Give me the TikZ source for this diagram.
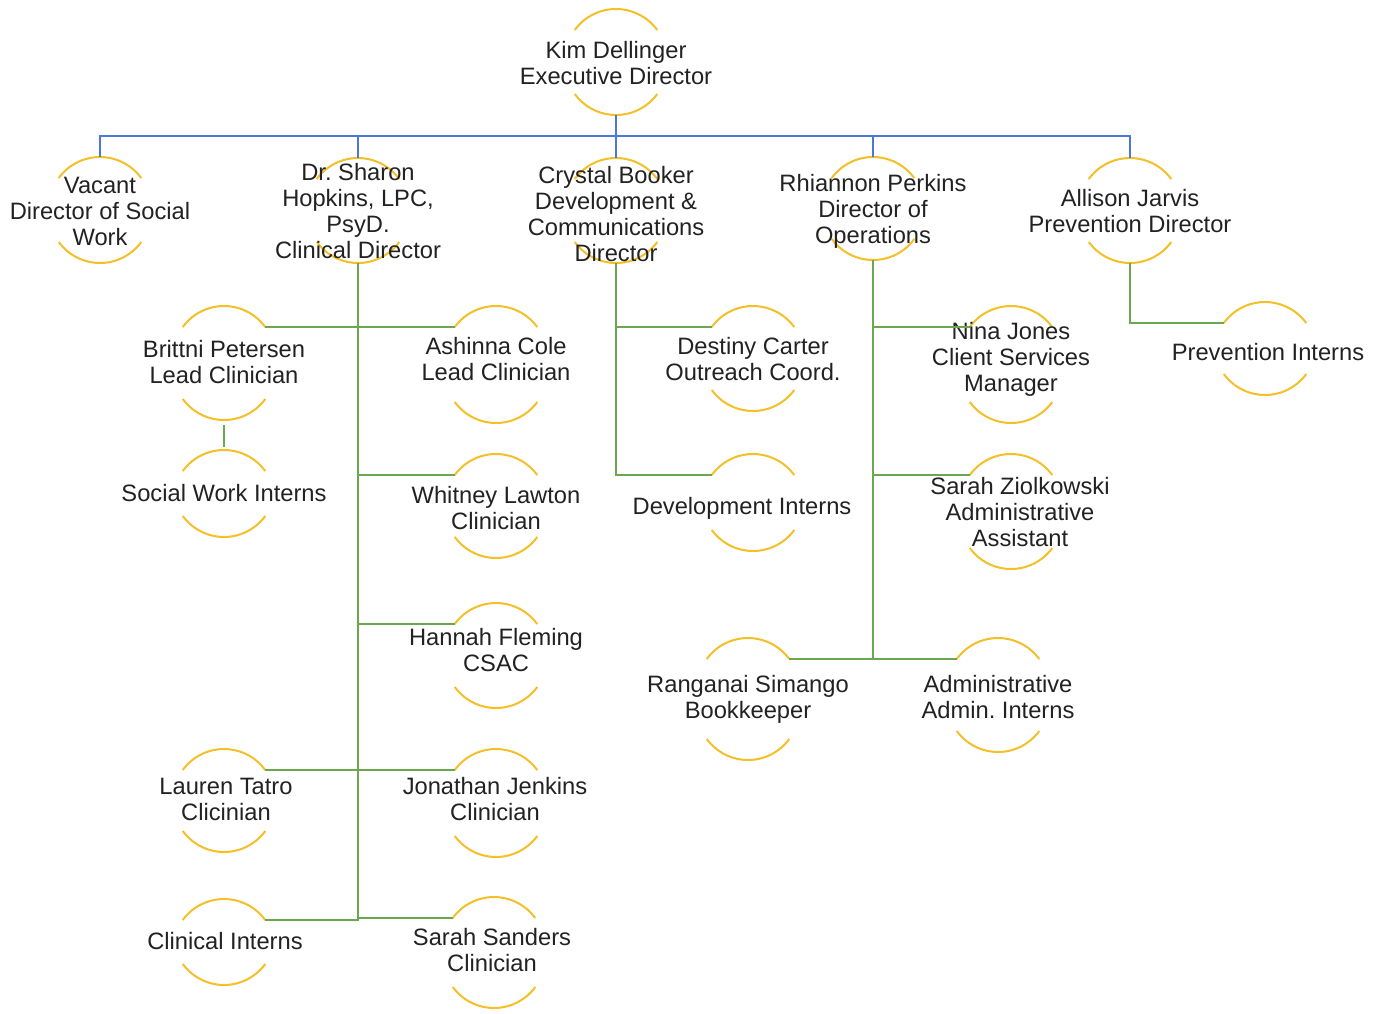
\documentclass[tikz,border=0pt]{standalone}
\usepackage{fontspec}
\setmainfont{Liberation Sans}
\frenchspacing
\definecolor{arcyel}{RGB}{243,192,40}
\definecolor{lineblue}{RGB}{74,120,214}
\definecolor{linegreen}{RGB}{106,168,79}
\definecolor{textc}{RGB}{34,34,34}
\tikzset{
  arcst/.style={draw=arcyel, line width=2pt},
  txt/.style={font=\fontsize{23.7}{26}\selectfont, align=center, inner sep=0pt, text=textc},
  bl/.style={draw=lineblue, line width=2pt},
  gr/.style={draw=linegreen, line width=2pt},
}
\newcommand\orgnode[7]{%
  \coordinate (#1-t) at (#2,#3);
  \coordinate (#1-b) at (#2,#4);
  \path (#1-t) ++(0,51) ++(216:51) coordinate (#1-tl);
  \path (#1-t) ++(0,51) ++(324:51) coordinate (#1-tr);
  \draw[arcst] (#1-tl) arc[start angle=216,end angle=324,radius=51];
  \draw[arcst] (#1-b) ++(0,-51) ++(36:51) arc[start angle=36,end angle=144,radius=51];
  \node[txt] (#1) at (#5,#6) {#7};
}
\begin{document}
\begin{tikzpicture}[x=1pt,y=-1pt]
\useasboundingbox (0,0) rectangle (1383,1013);
\fill[white] (0,0) rectangle (1383,1013);
% nodes
\orgnode{kim}{616}{9}{115}{616}{63}{Kim Dellinger\\Executive Director}
\orgnode{vac}{100}{157}{263}{100}{211}{Vacant\\Director of Social\\Work}
\orgnode{sha}{358}{158}{263}{358}{211}{Dr. Sharon\\Hopkins, LPC,\\PsyD.\\Clinical Director}
\orgnode{cry}{616}{158}{263}{616}{214}{Crystal Booker\\Development \&\\Communications\\Director}
\orgnode{rhi}{873}{157}{260}{873}{211}{Rhiannon Perkins\\Director of\\Operations}
\orgnode{all}{1130}{158}{263}{1130}{211}{Allison Jarvis\\Prevention Director}
\orgnode{brit}{224}{306}{420}{224}{362}{Brittni Petersen\\Lead Clinician}
\orgnode{swi}{224}{450}{537}{224}{493}{Social Work Interns}
\orgnode{ash}{496}{306}{423}{496}{359}{Ashinna Cole\\Lead Clinician}
\orgnode{whit}{496}{454}{558}{496}{508}{Whitney Lawton\\Clinician}
\orgnode{hann}{496}{603}{708}{496}{650}{Hannah Fleming\\CSAC}
\orgnode{laur}{224}{749}{852}{226}{799}{Lauren Tatro\\Clicinian}
\orgnode{jon}{496}{749}{857}{495}{799}{Jonathan Jenkins\\Clinician}
\orgnode{clin}{224}{899}{985}{225}{941}{Clinical Interns}
\orgnode{ssan}{494}{897}{1008}{492}{950}{Sarah Sanders\\Clinician}
\orgnode{dest}{753}{306}{411}{753}{359}{Destiny Carter\\Outreach Coord.}
\orgnode{devi}{753}{454}{551}{742}{508}{Development Interns}
\orgnode{nina}{1011}{306}{423}{1011}{359}{Nina Jones\\Client Services\\Manager}
\orgnode{sz}{1011}{454}{569}{1020}{512}{Sarah Ziolkowski\\Administrative\\Assistant}
\orgnode{rang}{748}{638}{760}{748}{699}{Ranganai Simango\\Bookkeeper}
\orgnode{adm}{998}{638}{752}{998}{697}{Administrative\\Admin. Interns}
\orgnode{prev}{1265}{302}{395}{1268}{352}{Prevention Interns}
% blue connectors
\coordinate (bus) at (616,136);
\draw[bl] (kim-b) -- (bus);
\foreach \n in {vac,sha,cry,rhi,all} \draw[bl] (bus) -| (\n-t);
% green connectors: Sharon
\foreach \n in {brit-tr,ash-tl,whit-tl,hann-tl,jon-tl,ssan-tl} \draw[gr] (sha-b) |- (\n);
\draw[gr] (sha-b) |- (clin-tr);
\draw[gr] (sha-b) |- (laur-tr);
\draw[gr] ([yshift=-5pt]brit-b) -- ([yshift=3pt]swi-t);
% Crystal
\draw[gr] (cry-b) |- (dest-tl);
\draw[gr] (cry-b) |- (devi-tl);
% Rhiannon
\draw[gr] (rhi-b) |- (nina-tl);
\draw[gr] (rhi-b) |- (sz-tl);
\draw[gr] (rhi-b) |- (rang-tr);
\draw[gr] (rhi-b) |- (adm-tl);
% Allison
\draw[gr] (all-b) |- (prev-tl);
\end{tikzpicture}
\end{document}
